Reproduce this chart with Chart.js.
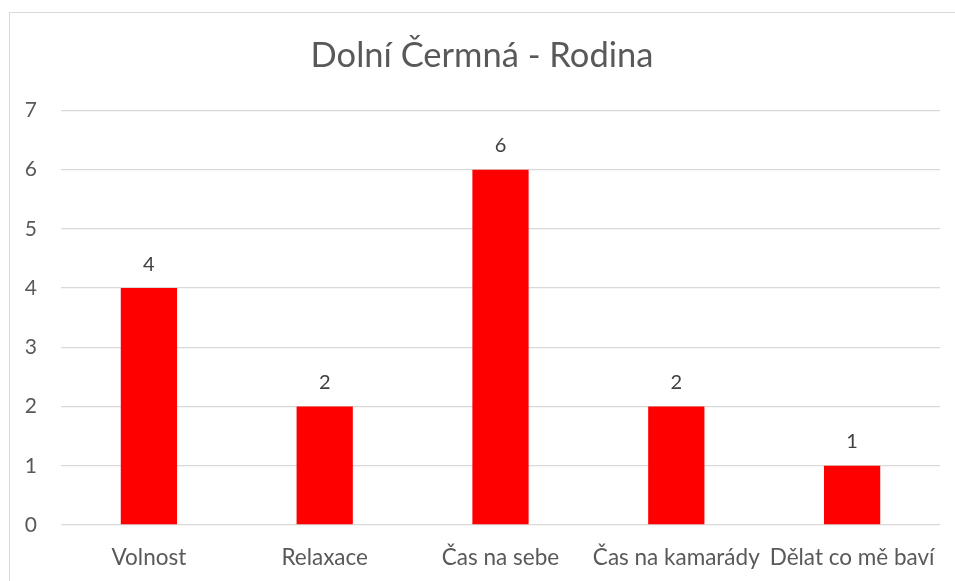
<!DOCTYPE html>
<html>
<head>
<meta charset="utf-8">
<script src="https://cdn.jsdelivr.net/npm/chart.js@4"></script>
<style>
    html, body { margin: 0; padding: 0; background: #fff; overflow: hidden; }
    #frame {
        position: absolute; left: 9px; top: 12px;
        width: 980px; height: 620px;
        border: 1px solid #d9d9d9;
    }
    #wrap { position: absolute; left: 0; top: 0; width: 955px; height: 581px; }
</style>
</head>
<body>
<div id="frame"></div>
<div id="wrap"><canvas id="rodinaChart"></canvas></div>
<script>
// Chart data
var chartTitle = 'Dolní Čermná - Rodina';
var categories = ['Volnost', 'Relaxace', 'Čas na sebe', 'Čas na kamarády', 'Dělat co mě baví'];
var counts = [4, 2, 6, 2, 1];
var yTicks = [0, 1, 2, 3, 4, 5, 6, 7];

var fontFamily = 'Lato, "Open Sans", sans-serif';

// Draws the value above each bar
var valueLabels = {
    id: 'valueLabels',
    afterDatasetsDraw: function(chart) {
        var ctx = chart.ctx;
        var meta = chart.getDatasetMeta(0);
        ctx.save();
        ctx.fillStyle = '#404040';
        ctx.font = '20px ' + fontFamily;
        ctx.textAlign = 'center';
        ctx.textBaseline = 'bottom';
        meta.data.forEach(function(bar, i) {
            ctx.fillText(chart.data.datasets[0].data[i], bar.x, bar.y - 14);
        });
        ctx.restore();
    }
};

var ctx = document.getElementById('rodinaChart').getContext('2d');
new Chart(ctx, {
    type: 'bar',
    data: {
        labels: categories,
        datasets: [{
            label: chartTitle,
            data: counts,
            backgroundColor: '#ff0000',
            categoryPercentage: 1,
            barPercentage: 0.32
        }]
    },
    options: {
        responsive: true,
        maintainAspectRatio: false,
        animation: false,
        // left padding is larger so the title sits a bit right of centre
        layout: { padding: { top: 22, right: 15, left: 24, bottom: 0 } },
        scales: {
            x: {
                grid: { display: false },
                border: { display: false },
                ticks: {
                    color: '#595959',
                    font: { size: 22.5, family: fontFamily },
                    padding: 11,
                    maxRotation: 0,
                    autoSkip: false
                },
                afterFit: function(scale) { scale.height = 56; }
            },
            y: {
                min: 0,
                max: yTicks[yTicks.length - 1],
                afterBuildTicks: function(scale) {
                    scale.ticks = yTicks.map(function(v) { return { value: v }; });
                },
                grid: { color: '#d9d9d9', lineWidth: 1.3, drawTicks: false },
                border: { display: false },
                ticks: {
                    color: '#595959',
                    font: { size: 21, family: fontFamily },
                    padding: 24
                },
                afterFit: function(scale) { scale.width = 37; }
            }
        },
        plugins: {
            legend: { display: false },
            tooltip: { enabled: false },
            title: {
                display: true,
                text: chartTitle,
                color: '#595959',
                font: { size: 34.5, weight: 'normal', family: fontFamily },
                padding: { top: 13, bottom: 34 }
            }
        }
    },
    plugins: [valueLabels]
});
</script>
</body>
</html>
